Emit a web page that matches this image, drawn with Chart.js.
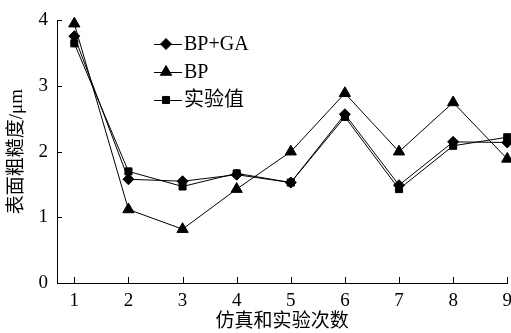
<!DOCTYPE html>
<html>
<head>
<meta charset="utf-8">
<script src="https://cdn.jsdelivr.net/npm/chart.js@4"></script>
<style>
  html, body { margin: 0; padding: 0; background: #fff; overflow: hidden; }
  #wrap { width: 519px; height: 333px; position: relative; }
</style>
</head>
<body>
<div id="wrap"><canvas id="roughChart"></canvas></div>
<script>
// 仿真和实验次数
const runs = [1, 2, 3, 4, 5, 6, 7, 8, 9];
const bpga = [3.76, 1.58, 1.55, 1.65, 1.53, 2.57, 1.49, 2.15, 2.14];
const bp = [3.95, 1.12, 0.82, 1.43, 2.0, 2.89, 2.0, 2.75, 1.89];
const measured = [3.65, 1.70, 1.47, 1.67, 1.53, 2.53, 1.43, 2.09, 2.22];
const yTicks = [0, 1, 2, 3, 4];

const serif = "'Liberation Serif', 'DejaVu Serif', 'Noto Sans CJK SC', serif";

function toPoints(vals) {
    return runs.map((r, i) => ({ x: r, y: vals[i] }));
}

const seriesList = [
    { label: 'BP+GA', data: bpga, style: 'rectRot', radius: 5.5 },
    { label: 'BP', data: bp, style: 'triangle', radius: 6.5 },
    { label: '实验值', data: measured, style: 'rect', radius: 5 }
];

// 内侧刻度线 + 图例
const extras = {
    id: 'extras',
    afterDraw(chart) {
        const ctx = chart.ctx;
        const xs = chart.scales.x, ys = chart.scales.y;
        const area = chart.chartArea;
        ctx.save();
        ctx.strokeStyle = '#000';
        ctx.lineWidth = 1;
        ctx.beginPath();
        runs.forEach(r => {
            const px = Math.round(xs.getPixelForValue(r)) + 0.5;
            ctx.moveTo(px, area.bottom);
            ctx.lineTo(px, area.bottom - 6);
        });
        yTicks.forEach(v => {
            const py = Math.round(ys.getPixelForValue(v)) + 0.5;
            ctx.moveTo(area.left, py);
            ctx.lineTo(area.left + 5, py);
        });
        ctx.stroke();

        // 图例
        const rows = [44, 72, 100];
        chart.data.datasets.forEach((ds, i) => {
            const y = rows[i];
            ctx.beginPath();
            ctx.moveTo(154, y + 0.5);
            ctx.lineTo(182, y + 0.5);
            ctx.stroke();
            Chart.helpers.drawPoint(ctx, {
                pointStyle: ds.pointStyle,
                radius: ds.pointRadius,
                borderWidth: 1
            }, 166, y);
            ctx.fillStyle = '#000';
            ctx.font = '20px ' + serif;
            ctx.textBaseline = 'middle';
            ctx.fillText(ds.label, 184, y + 1);
        });
        ctx.restore();
    }
};

const ctx = document.getElementById('roughChart').getContext('2d');
new Chart(ctx, {
    type: 'line',
    data: {
        datasets: seriesList.map(s => ({
            label: s.label,
            data: toPoints(s.data),
            borderColor: '#000',
            backgroundColor: '#000',
            borderWidth: 1,
            pointStyle: s.style,
            pointRadius: s.radius,
            pointBorderWidth: 1,
            pointBackgroundColor: '#000',
            pointBorderColor: '#000',
            tension: 0,
            clip: false
        }))
    },
    options: {
        responsive: true,
        maintainAspectRatio: false,
        animation: false,
        events: [],
        layout: { padding: { top: 17, right: 0, left: 0, bottom: 0 } },
        plugins: { legend: { display: false }, tooltip: { enabled: false } },
        scales: {
            x: {
                type: 'linear',
                min: 0.68,
                max: 9,
                afterBuildTicks: scale => { scale.ticks = runs.map(v => ({ value: v })); },
                afterFit: scale => { scale.height = 50; },
                grid: { display: false, drawTicks: false },
                border: { display: true, color: '#000', width: 1 },
                ticks: {
                    color: '#000',
                    padding: 7,
                    maxRotation: 0,
                    font: { family: serif, size: 19 }
                },
                title: {
                    display: true,
                    text: '仿真和实验次数',
                    color: '#000',
                    padding: { top: 0, bottom: 0 },
                    font: { family: serif, size: 19 }
                }
            },
            y: {
                min: 0,
                max: 4,
                afterBuildTicks: scale => { scale.ticks = yTicks.map(v => ({ value: v })); },
                afterFit: scale => { scale.width = 57; },
                grid: { display: false, drawTicks: false },
                border: { display: true, color: '#000', width: 1 },
                ticks: {
                    color: '#000',
                    padding: 9,
                    font: { family: serif, size: 19 }
                },
                title: {
                    display: true,
                    text: '表面粗糙度/μm',
                    color: '#000',
                    padding: { top: 6, bottom: 0 },
                    font: { family: serif, size: 19 }
                }
            }
        }
    },
    plugins: [extras]
});
</script>
</body>
</html>
